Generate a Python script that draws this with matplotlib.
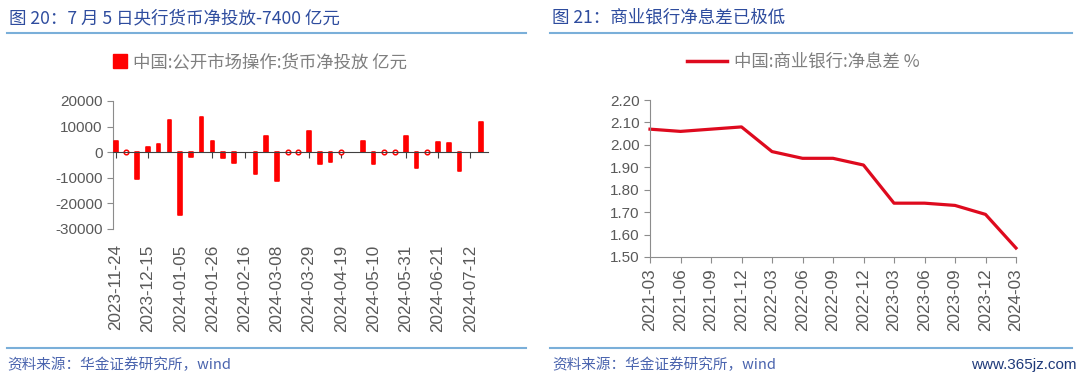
import matplotlib
matplotlib.use('Agg')
import matplotlib.pyplot as plt
import numpy as np
import pandas as pd
from matplotlib.lines import Line2D
from matplotlib.patches import Patch

plt.rcParams['font.family'] = ['Liberation Sans', 'Noto Sans CJK SC', 'DejaVu Sans']

# ---------------- data ----------------
week_dates = pd.date_range('2023-11-24', periods=35, freq='7D').strftime('%Y-%m-%d').tolist()
net_injection = [4300, 0, -10600, 2100, 3100, 12700, -24400, -1900, 13600, 4300,
                 -2300, -4300, np.nan, -8400, 6400, -11300, 0, 0, 8400, -4500,
                 -4000, 0, np.nan, 4500, -4500, 0, 0, 6200, -6200, 0,
                 4000, 3600, -7400, np.nan, 11700]
left_tick_labels = ['2023-11-24', '2023-12-15', '2024-01-05', '2024-01-26', '2024-02-16',
                    '2024-03-08', '2024-03-29', '2024-04-19', '2024-05-10', '2024-05-31',
                    '2024-06-21', '2024-07-12']

quarters = ['2021-03', '2021-06', '2021-09', '2021-12', '2022-03', '2022-06', '2022-09',
            '2022-12', '2023-03', '2023-06', '2023-09', '2023-12', '2024-03']
nim = [2.07, 2.06, 2.07, 2.08, 1.97, 1.94, 1.94, 1.91, 1.74, 1.74, 1.73, 1.69, 1.54]

title_left = '图 20：7 月 5 日央行货币净投放-7400 亿元'
title_right = '图 21：商业银行净息差已极低'
legend_left = '中国:公开市场操作:货币净投放 亿元'
legend_right = '中国:商业银行:净息差 %'
source = '资料来源：华金证券研究所，wind'

W, H = 1080, 379
fig = plt.figure(figsize=(W / 100, H / 100), dpi=100)

def fx(px):
    return px / W

def fy(py):
    return 1 - py / H

CJK = ['Noto Sans CJK SC', 'DejaVu Sans']
TICK_C = '#595959'
AX_C = '#8c8c8c'
RED = '#FF0000'
LINE_RED = '#DE0A1E'
TITLE_C = '#2E4C9E'
RULE_C = '#7AAFD9'

# ---------------- left chart ----------------
ax1 = fig.add_axes([fx(113), fy(229), fx(488 - 113), (229 - 101) / H])
vals = np.array(net_injection, dtype=float)
x = np.arange(len(vals))
ok = np.isfinite(vals) & (vals != 0)
bars = ax1.bar(x[ok], vals[ok], width=0.34, color=RED, edgecolor=RED, linewidth=1.2,
               joinstyle='round', zorder=3)
zero = np.isfinite(vals) & (vals == 0)
ax1.scatter(x[zero], vals[zero], s=11, facecolors='white', edgecolors=RED,
            linewidths=1.1, zorder=4)
ax1.set_xlim(-0.25, 34.65)
ax1.set_ylim(-30000, 20000)
ax1.set_yticks(np.arange(-30000, 20001, 10000))
ax1.set_yticklabels([f'{int(v)}' for v in np.arange(-30000, 20001, 10000)])
for s in ['top', 'right']:
    ax1.spines[s].set_visible(False)
ax1.spines['left'].set_color(AX_C)
ax1.spines['bottom'].set_position(('data', 0))
ax1.spines['bottom'].set_color('#404040')
ax1.spines['bottom'].set_zorder(5)
tick_idx = np.arange(0, len(vals), 3)[:len(left_tick_labels)]
ax1.set_xticks(tick_idx)
ax1.tick_params(axis='x', direction='out', length=4, color='#404040', labelbottom=False)
ax1.tick_params(axis='y', direction='out', length=4, color=AX_C, labelsize=11, labelcolor=TICK_C)
sec = ax1.secondary_xaxis('bottom')
sec.set_xticks(tick_idx)
sec.set_xticklabels(left_tick_labels, rotation=90)
sec.tick_params(length=0, labelsize=12.3, labelcolor=TICK_C, pad=11)
sec.spines['bottom'].set_visible(False)

# ---------------- right chart ----------------
ax2 = fig.add_axes([fx(650), fy(257), fx(1016 - 650), (257 - 100) / H])
xr = np.arange(len(nim))
ax2.plot(xr, nim, color=LINE_RED, lw=2.3, solid_joinstyle='round', clip_on=False)
ax2.set_xlim(0, len(nim) - 1)
ax2.set_ylim(1.5, 2.2)
yt = np.round(np.arange(1.5, 2.201, 0.1), 2)
ax2.set_yticks(yt)
ax2.set_yticklabels([f'{v:.2f}' for v in yt])
ax2.set_xticks(xr)
ax2.set_xticklabels(quarters, rotation=90)
for s in ['top', 'right']:
    ax2.spines[s].set_visible(False)
for s in ['left', 'bottom']:
    ax2.spines[s].set_color(AX_C)
ax2.tick_params(axis='both', direction='out', length=4, color=AX_C, labelcolor=TICK_C)
ax2.tick_params(axis='y', labelsize=11)
ax2.tick_params(axis='x', labelsize=12.3, pad=4)

# ---------------- legends ----------------
h1 = Patch(facecolor=RED, edgecolor=RED, joinstyle='round')
leg1 = fig.legend([h1], [legend_left], loc='center', bbox_to_anchor=(fx(260), fy(62)),
                  frameon=False, handlelength=0.8, handleheight=0.8, handletextpad=0.3,
                  prop={'family': CJK, 'size': 12.5})
for t in leg1.get_texts():
    t.set_color('#7f7f7f')
h2 = Line2D([], [], color=LINE_RED, lw=2.5)
leg2 = fig.legend([h2], [legend_right], loc='center', bbox_to_anchor=(fx(803), fy(62)),
                  frameon=False, handlelength=2.3, handletextpad=0.4,
                  prop={'family': CJK, 'size': 12.5})
for t in leg2.get_texts():
    t.set_color('#7f7f7f')

# ---------------- titles, rules, footers ----------------
fig.text(fx(9), fy(18), title_left, family=CJK, fontsize=12.6, color=TITLE_C, va='center', ha='left')
fig.text(fx(552), fy(18), title_right, family=CJK, fontsize=12.6, color=TITLE_C, va='center', ha='left')
for x0, x1 in [(7, 526), (550, 1072)]:
    fig.add_artist(Line2D([fx(x0), fx(x1)], [fy(33), fy(33)], color=RULE_C, lw=1.5))
    fig.add_artist(Line2D([fx(x0), fx(x1)], [fy(348), fy(348)], color=RULE_C, lw=1.5))
fig.text(fx(7), fy(365), source, family=CJK, fontsize=10.5, style='italic', color='#4A64AE',
         va='center', ha='left')
fig.text(fx(552), fy(365), source, family=CJK, fontsize=10.5, style='italic', color='#4A64AE',
         va='center', ha='left')
fig.text(fx(1077), fy(365), 'www.365jz.com', fontsize=11, color='#1F3A7A', va='center', ha='right')

fig.savefig('out.png', dpi=100)
